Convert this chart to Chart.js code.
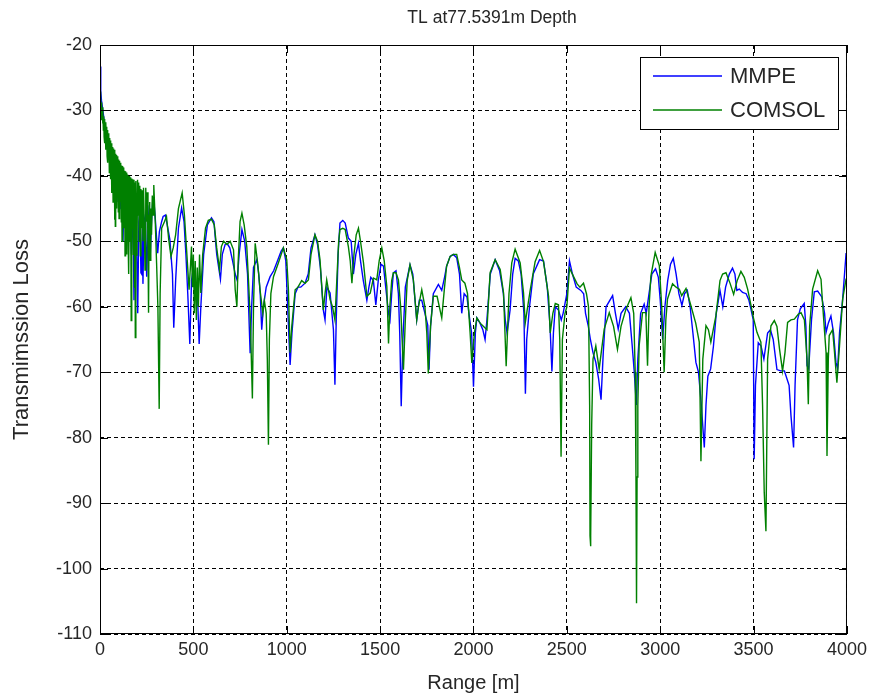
<!DOCTYPE html>
<html>
<head>
<meta charset="utf-8">
<script src="https://cdn.jsdelivr.net/npm/chart.js@4.4.1/dist/chart.umd.min.js"></script>
<style>
  html, body { margin: 0; background: #fff; }
  #wrap { width: 872px; height: 698px; }
</style>
</head>
<body>
<div id="wrap"><canvas id="tlChart" width="872" height="698"></canvas></div>
<script>
const chartTitle = 'TL at77.5391m Depth';
const xAxisLabel = 'Range [m]';
const yAxisLabel = 'Transmimssion Loss';
const seriesNames = ['MMPE', 'COMSOL'];
const seriesColors = ['#0000ff', '#008000'];
const rangeLimits = [0, 4000];
const lossLimits = [-110, -20];

// [range m, TL dB]
const mmpePoints = [
  [0,-23.3],[4,-27],[8,-28.5],[13,-29.5],[20,-31],[25,-32],[31,-34],[37,-33.5],[43,-36.5],[50,-35.5],
  [56,-39],[63,-37],[70,-41],[76,-38.5],[82,-42],[90,-39.5],[97,-44],[104,-40],[112,-45.1],[116,-41],
  [123,-50],[130,-41.5],[137,-47],[144,-42],[152,-46],[160,-42.5],[168,-52],[176,-43.6],[182,-59],[188,-46],
  [195,-48],[202,-61],[208,-47],[214,-45],[219,-54.8],[223,-55],[227,-48],[230,-56.5],[236,-47],[243,-46],
  [250,-55.4],[258,-47],[264,-44.5],[269,-52.2],[276,-47],[282,-44],[288,-43.7],[296,-46.5],[303,-49.5],[309,-51.8],
  [318,-48.5],[330,-47],[338,-46.2],[350,-46],[360,-47.5],[374,-49.7],[388,-55],[395,-63.2],[405,-56],[420,-48],
  [437,-44.9],[450,-47],[460,-52],[470,-58],[481,-65.7],[490,-56],[500,-54],[510,-56],[522,-58],[531,-65.7],
  [540,-60],[555,-52],[575,-47.5],[597,-46.4],[610,-47],[625,-52],[645,-55.8],[655,-52],[670,-50.5],[680,-50.3],
  [695,-51],[710,-53],[724,-55],[735,-56],[745,-52],[760,-48.2],[775,-50],[790,-55],[804,-67.1],[812,-60],
  [822,-54],[840,-52.8],[850,-55],[858,-58],[866,-63.5],[875,-60],[890,-57],[911,-55.4],[930,-54.5],[950,-53],
  [970,-51.5],[982,-51],[995,-53],[1005,-60],[1018,-68.9],[1028,-64],[1045,-58],[1060,-57],[1075,-57],[1098,-56.4],
  [1115,-55],[1130,-51],[1151,-49],[1165,-50.5],[1180,-54],[1196,-60.5],[1205,-62],[1215,-57],[1232,-57.9],[1250,-63.5],
  [1258,-71.9],[1265,-62],[1275,-52],[1285,-47.2],[1300,-46.8],[1313,-47.2],[1330,-49.5],[1345,-50],[1357,-55],[1370,-52],
  [1384,-50.3],[1395,-53],[1410,-56],[1429,-59],[1440,-57],[1450,-55.5],[1464,-56],[1477,-59.7],[1490,-56],[1505,-53.5],
  [1518,-53.8],[1530,-57],[1545,-61],[1553,-62],[1562,-58],[1571,-54.8],[1585,-54.5],[1598,-58],[1605,-64],[1613,-75.2],
  [1622,-65],[1635,-57],[1660,-53.6],[1675,-55],[1690,-60],[1696,-62],[1710,-59],[1723,-59],[1740,-61],[1755,-62.8],
  [1762,-69.6],[1770,-63],[1785,-58],[1812,-56.6],[1830,-57.5],[1845,-55.5],[1856,-53.8],[1875,-52.3],[1892,-52],[1910,-52.5],
  [1925,-55],[1937,-61],[1950,-58],[1965,-58.5],[1980,-62],[1990,-64],[2000,-72.2],[2010,-64],[2018,-61.7],[2035,-62.5],
  [2050,-63.5],[2062,-65],[2072,-62],[2090,-55],[2116,-52.8],[2140,-54.5],[2160,-58],[2170,-62],[2180,-64],[2196,-60.5],
  [2210,-55],[2223,-52.6],[2240,-53],[2255,-55],[2270,-61],[2278,-73.3],[2285,-65],[2300,-60],[2320,-55],[2354,-52.8],
  [2375,-53],[2395,-57],[2410,-63],[2420,-69.9],[2428,-64],[2438,-60],[2455,-60.5],[2470,-62],[2480,-61],[2500,-58],
  [2514,-53],[2530,-55],[2550,-57],[2575,-57.5],[2590,-58],[2600,-61],[2615,-63],[2626,-65],[2640,-67],[2655,-68.5],
  [2670,-71],[2683,-74.2],[2695,-67],[2710,-60],[2745,-58.3],[2760,-61],[2775,-63.4],[2790,-61],[2815,-60],[2835,-61],
  [2850,-66],[2861,-70],[2872,-75],[2880,-68],[2895,-61],[2914,-59.6],[2925,-61],[2940,-58],[2955,-55],[2975,-54.2],
  [2990,-55.5],[3000,-59],[3013,-65],[3025,-60],[3040,-56],[3055,-53.5],[3070,-52.6],[3085,-55],[3100,-58],[3116,-59.8],
  [3130,-58],[3145,-57.5],[3160,-60],[3175,-64],[3191,-68.5],[3205,-70],[3220,-75],[3236,-81.5],[3245,-75],[3255,-70.6],
  [3270,-69.5],[3285,-66],[3300,-61],[3320,-57.5],[3335,-60],[3350,-57],[3370,-55],[3387,-54.1],[3400,-55],[3410,-57.5],
  [3423,-57.3],[3441,-57.8],[3460,-58],[3475,-59],[3486,-60.4],[3498,-62],[3503,-83.3],[3510,-72],[3525,-65.5],[3540,-66],
  [3555,-68],[3575,-64],[3590,-63.5],[3605,-65],[3625,-69.6],[3645,-69.8],[3665,-69.8],[3690,-72],[3700,-76.6],[3714,-81.5],
  [3722,-72],[3735,-62],[3750,-60.3],[3771,-59.5],[3780,-63],[3786,-69],[3795,-69.5],[3810,-62],[3825,-57.7],[3843,-57.6],
  [3865,-58.5],[3880,-61],[3888,-63.9],[3900,-62.5],[3914,-61.4],[3928,-64],[3941,-68.5],[3950,-69.5],[3960,-64],[3977,-58.8],
  [3995,-51.9],[4000,-51.6]
];

const comsolPoints = [
  [0,-27.1],[2,-29],[4,-28],[6,-30.5],[8,-28.8],[10,-31.5],[12,-29.5],[14,-32],[16,-30],[18,-33],
  [20,-30.9],[22,-34],[24,-31.3],[26,-35],[28,-31.8],[30,-36],[32,-32],[34,-35],[36,-32.5],[38,-37],
  [40,-33],[42,-38],[44,-33.5],[46,-37],[48,-34],[50,-39.5],[52,-34.2],[54,-38],[56,-34.6],[58,-40.5],
  [60,-35],[62,-42.6],[64,-35.3],[66,-41],[68,-35.6],[70,-44],[72,-35.8],[74,-42],[76,-36],[78,-46.7],
  [80,-36.3],[82,-47.7],[84,-36.6],[86,-43],[88,-36.8],[90,-45],[92,-37],[94,-42],[96,-37.2],[98,-45.5],
  [100,-37.5],[102,-46.5],[104,-37.7],[106,-43],[108,-38],[110,-44],[112,-38.2],[114,-47],[116,-38.4],[118,-50],
  [120,-38.5],[122,-45],[124,-38.7],[126,-48],[128,-39],[130,-46],[132,-39.2],[134,-52.2],[136,-39.3],[138,-47],
  [140,-39.5],[142,-52],[144,-39.6],[146,-46],[148,-39.8],[150,-49],[152,-40],[155,-55],[158,-40],[161,-50],
  [164,-40.2],[167,-62.1],[170,-40.4],[173,-48],[176,-40.5],[179,-52],[182,-40.6],[185,-57],[187,-41],[189,-64.7],
  [192,-40.8],[195,-47],[198,-52.2],[201,-40.6],[204,-46],[207,-41],[210,-50],[213,-41.5],[216,-52.2],[219,-42],
  [222,-48],[226,-42.2],[230,-50],[233,-41.8],[237,-47],[241,-54.4],[245,-41.8],[249,-47],[253,-42.5],[257,-51],
  [260,-60.9],[263,-46],[266,-44],[268,-52.9],[272,-45],[276,-49],[280,-43],[284,-46],
  [288,-41.4],[296,-47],[303,-53.3],[310,-60],[317,-75.6],[322,-58],[330,-48],[345,-47],[356,-46.2],[368,-49.7],
  [380,-52.3],[392,-51],[405,-49],[420,-45],[440,-42.6],[452,-46],[463,-51],[477,-57.4],[484,-54],[490,-50.8],
  [495,-57],[500,-52],[505,-61],[510,-53],[516,-62],[521,-54],[527,-60],[533,-52],[540,-57.9],[550,-52],
  [565,-48],[580,-46.8],[597,-46.6],[612,-47.5],[625,-51],[640,-54.3],[650,-50.8],[662,-50],[680,-50.5],[697,-50],
  [715,-51.3],[724,-57.4],[733,-60],[740,-53],[750,-47],[760,-45.7],[772,-47.5],[786,-50.8],[795,-55.9],[805,-62],
  [816,-74],[822,-60],[831,-50.3],[845,-53.5],[857,-57.4],[872,-61],[880,-59],[890,-61],[896,-68],[902,-81.1],
  [907,-65],[915,-58],[929,-55.4],[955,-53.3],[982,-51],[1000,-52.8],[1009,-57.4],[1018,-67],[1027,-63],[1045,-57.4],
  [1060,-57],[1080,-56],[1098,-56.4],[1116,-55.9],[1130,-52],[1151,-49],[1165,-50],[1178,-52.8],[1196,-60.5],[1205,-58],
  [1214,-55.9],[1232,-58.9],[1245,-60],[1258,-62],[1268,-56],[1278,-50],[1285,-48.2],[1300,-48],[1313,-48.2],[1330,-50.8],
  [1340,-53],[1349,-56.4],[1360,-52],[1372,-49],[1384,-48],[1395,-50],[1411,-53.3],[1429,-58.4],[1447,-57.9],[1464,-55.6],
  [1482,-55.9],[1495,-53],[1509,-51],[1522,-53],[1536,-56.9],[1545,-65.6],[1552,-60],[1562,-56],[1571,-54.8],[1585,-54.8],
  [1598,-55.9],[1610,-60],[1625,-69.6],[1635,-62],[1645,-56],[1660,-53.6],[1678,-55.9],[1696,-62],[1705,-60],[1723,-57.4],
  [1740,-60],[1750,-64],[1758,-70.2],[1770,-63],[1785,-58.4],[1805,-58.4],[1830,-61.7],[1845,-57],[1856,-53.8],[1875,-52.3],
  [1892,-52],[1910,-52],[1925,-54],[1937,-55.9],[1954,-56.4],[1968,-58],[1982,-64],[1991,-68.6],[2005,-64],[2018,-61.7],
  [2036,-62.5],[2054,-63],[2072,-63.5],[2089,-54.8],[2116,-52.8],[2143,-54.3],[2161,-57.9],[2175,-69.1],[2190,-58],[2205,-53.3],
  [2223,-51.2],[2250,-53.3],[2268,-57.9],[2277,-62.5],[2290,-60],[2304,-57.4],[2330,-53.1],[2354,-51.4],[2375,-53.1],[2402,-58.4],
  [2411,-64],[2425,-61],[2438,-59.5],[2455,-59.7],[2462,-65],[2469,-82.9],[2476,-65],[2490,-61],[2500,-60],[2514,-54.1],
  [2536,-55.4],[2555,-56.5],[2570,-57],[2589,-56.4],[2605,-58],[2616,-60],[2622,-75],[2624,-95],[2626,-96.6],[2629,-95],
  [2633,-78],[2640,-68],[2655,-66],[2673,-69.5],[2700,-63.4],[2727,-60.9],[2750,-63],[2771,-66.5],[2790,-63],[2816,-60.4],
  [2843,-58.6],[2858,-61],[2866,-70],[2870,-86],[2873,-105.3],[2876,-86],[2880,-75],[2887,-66],[2905,-60.9],[2923,-60.9],
  [2932,-69],[2940,-60],[2950,-55.3],[2973,-51.7],[2995,-53.7],[3008,-60],[3021,-70],[3030,-62],[3039,-58.8],[3066,-56.5],
  [3085,-57],[3102,-57.3],[3115,-58.3],[3138,-57.2],[3164,-59.8],[3190,-62.5],[3209,-65.4],[3218,-83.6],[3228,-68],[3245,-62.9],
  [3258,-63.5],[3271,-65.4],[3298,-61.4],[3320,-56],[3334,-55],[3352,-54.8],[3375,-56.5],[3393,-58.1],[3412,-56],[3432,-54.6],
  [3450,-55.5],[3468,-57.3],[3486,-59.8],[3500,-61.8],[3518,-63.9],[3539,-65.4],[3548,-75.1],[3557,-88.4],[3566,-94.3],[3575,-68],
  [3593,-62.9],[3611,-62.1],[3625,-63],[3639,-66.5],[3655,-69.8],[3668,-67],[3682,-62.4],[3700,-62],[3718,-61.9],[3740,-61.1],
  [3754,-60.9],[3772,-62],[3786,-68],[3793,-74.9],[3800,-63],[3816,-57.3],[3843,-54.5],[3861,-55.8],[3870,-59.8],[3888,-67],
  [3893,-82.8],[3900,-68],[3905,-64.4],[3923,-63.5],[3932,-66.5],[3946,-71.6],[3960,-66],[3977,-58.8],[3995,-55.8],[4000,-54.7]
];

const textColor = '#262626';
const labelFont = "'Liberation Sans', Arial, sans-serif";

function toXY(points) {
  return points.map(([x, y]) => ({ x, y }));
}

// box, inward ticks, legend and titles, MATLAB style
const matlabFrame = {
  id: 'matlabFrame',
  afterDraw(chart) {
    const { ctx, chartArea: a, scales } = chart;
    const tickLen = 8;
    ctx.save();
    ctx.strokeStyle = '#000';
    ctx.lineWidth = 1;
    ctx.setLineDash([]);
    ctx.strokeRect(a.left + 0.5, a.top + 0.5, a.right - a.left - 1, a.bottom - a.top - 1);

    ctx.beginPath();
    scales.x.ticks.forEach((t) => {
      const px = Math.round(scales.x.getPixelForValue(t.value)) + 0.5;
      ctx.moveTo(px, a.bottom); ctx.lineTo(px, a.bottom - tickLen);
      ctx.moveTo(px, a.top); ctx.lineTo(px, a.top + tickLen);
    });
    scales.y.ticks.forEach((t) => {
      const py = Math.round(scales.y.getPixelForValue(t.value)) + 0.5;
      ctx.moveTo(a.left, py); ctx.lineTo(a.left + tickLen, py);
      ctx.moveTo(a.right, py); ctx.lineTo(a.right - tickLen, py);
    });
    ctx.stroke();

    // legend
    const lx = 640, ly = 57, lw = 198, lh = 72;
    ctx.fillStyle = '#fff';
    ctx.fillRect(lx, ly, lw, lh);
    ctx.strokeRect(lx + 0.5, ly + 0.5, lw, lh);
    ctx.font = '22px ' + labelFont;
    ctx.textAlign = 'left';
    ctx.textBaseline = 'middle';
    seriesNames.forEach((name, i) => {
      const y = ly + 19 + i * 34;
      ctx.strokeStyle = seriesColors[i];
      ctx.lineWidth = 1.4;
      ctx.beginPath();
      ctx.moveTo(lx + 13, y); ctx.lineTo(lx + 82, y);
      ctx.stroke();
      ctx.fillStyle = textColor;
      ctx.fillText(name, lx + 90, y + 1);
    });

    // titles
    ctx.fillStyle = textColor;
    ctx.textAlign = 'center';
    ctx.textBaseline = 'middle';
    ctx.font = '17.5px ' + labelFont;
    ctx.fillText(chartTitle, 492, 18);
    ctx.font = '20px ' + labelFont;
    ctx.fillText(xAxisLabel, (a.left + a.right) / 2, 683);
    ctx.translate(22, (a.top + a.bottom) / 2);
    ctx.rotate(-Math.PI / 2);
    ctx.font = '22px ' + labelFont;
    ctx.fillText(yAxisLabel, 0, 0);
    ctx.restore();
  }
};

new Chart(document.getElementById('tlChart'), {
  type: 'line',
  data: {
    datasets: [
      {
        label: seriesNames[1],
        data: toXY(comsolPoints),
        borderColor: seriesColors[1],
        borderWidth: 1.4,
        pointRadius: 0,
        tension: 0,
        order: 0,
      },
      {
        label: seriesNames[0],
        data: toXY(mmpePoints),
        borderColor: seriesColors[0],
        borderWidth: 1.4,
        pointRadius: 0,
        tension: 0,
        order: 1,
      },
    ],
  },
  options: {
    responsive: false,
    animation: false,
    events: [],
    layout: { padding: { left: 0, top: 45, right: 24, bottom: 0 } },
    plugins: {
      legend: { display: false },
      tooltip: { enabled: false },
      title: { display: false },
    },
    scales: {
      x: {
        type: 'linear',
        min: rangeLimits[0],
        max: rangeLimits[1],
        afterFit(scale) { scale.height = 64; },
        ticks: {
          stepSize: 500,
          maxRotation: 0,
          autoSkip: false,
          padding: 5,
          color: textColor,
          font: { family: labelFont, size: 18 },
          callback: (value) => String(value),
        },
        grid: { color: '#000', lineWidth: 1, drawTicks: false },
        border: { display: false, dash: [4, 3] },
      },
      y: {
        min: lossLimits[0],
        max: lossLimits[1],
        afterFit(scale) { scale.width = 100; },
        ticks: {
          stepSize: 10,
          autoSkip: false,
          padding: 8,
          color: textColor,
          font: { family: labelFont, size: 18 },
          callback: (value) => String(value),
        },
        grid: { color: '#000', lineWidth: 1, drawTicks: false },
        border: { display: false, dash: [4, 3] },
      },
    },
  },
  plugins: [matlabFrame],
});
</script>
</body>
</html>
